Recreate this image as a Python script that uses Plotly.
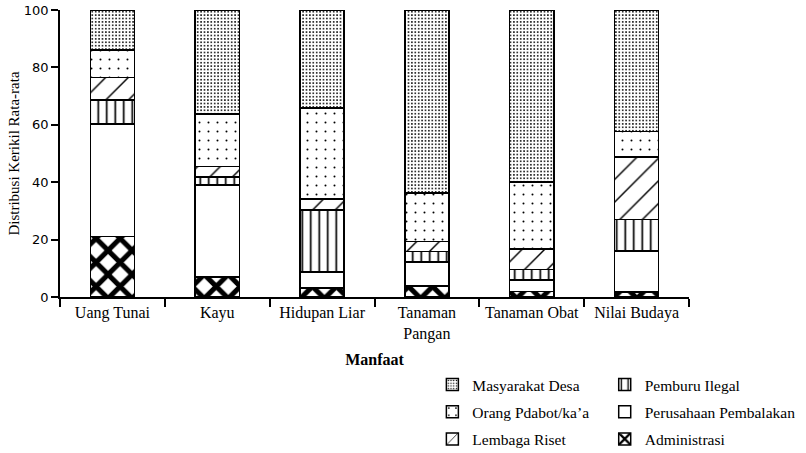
import plotly.graph_objects as go

categories = ["Uang Tunai", "Kayu", "Hidupan Liar", "Tanaman<br>Pangan", "Tanaman Obat", "Nilai Budaya"]

administrasi = [21.0, 7.0, 3.2, 3.8, 2.0, 1.7]
perusahaan_pembalakan = [39.3, 32.1, 5.5, 8.4, 4.0, 14.3]
pemburu_ilegal = [8.4, 2.7, 21.7, 3.6, 3.5, 11.0]
lembaga_riset = [7.8, 3.7, 3.7, 3.6, 7.3, 21.7]
orang_pdabot = [9.5, 18.2, 31.8, 16.9, 23.2, 9.0]
masyarakat_desa = [14.0, 36.3, 34.1, 63.7, 60.0, 42.3]

series = [
    # name, values, pattern shape, size, solidity, legend, rank
    ("Administrasi", administrasi, "x", 17, 0.5, "legend2", 3),
    ("Perusahaan Pembalakan", perusahaan_pembalakan, "", 8, 0.2, "legend2", 2),
    ("Pemburu Ilegal", pemburu_ilegal, "|", 8.5, 0.2, "legend2", 1),
    ("Lembaga Riset", lembaga_riset, "/", 16, 0.09, "legend", 3),
    ("Orang Pdabot/ka\u2019a", orang_pdabot, ".", 9, 0.04, "legend", 2),
    ("Masyarakat Desa", masyarakat_desa, ".", 3.4, 0.22, "legend", 1),
]

fig = go.Figure()
for name, vals, shape, size, sol, leg, rank in series:
    fig.add_trace(go.Bar(
        x=categories, y=vals, name=name,
        width=0.42,
        marker=dict(
            color="white",
            line=dict(color="black", width=1.5),
            pattern=dict(shape=shape, fgcolor="black", bgcolor="white",
                         size=size, solidity=sol, fillmode="replace"),
        ),
        legend=leg, legendrank=rank, legendgroup=name,
    ))

serif = "Liberation Serif"
legfont = dict(family=serif, size=15.5, color="black")
fig.update_layout(
    barmode="stack",
    width=806, height=453,
    margin=dict(l=60, r=117, t=10, b=156, autoexpand=False),
    plot_bgcolor="white", paper_bgcolor="white",
    font=dict(family=serif, color="black", size=15),
    legend=dict(x=0.592, xanchor="left", y=0.1876, yref="container", yanchor="top",
                orientation="v", tracegroupgap=4, font=legfont),
    legend2=dict(x=0.866, xanchor="left", y=0.1876, yref="container", yanchor="top",
                 orientation="v", tracegroupgap=4, font=legfont),
    xaxis=dict(
        automargin=False,
        showline=True, linecolor="black", linewidth=1.5,
        ticks="outside", tickson="boundaries", ticklen=8, tickwidth=1.5, tickcolor="black",
        tickfont=dict(family=serif, size=16, color="black"),
        title=dict(text="<b>Manfaat</b>", font=dict(family=serif, size=16, color="black"), standoff=15),
        showgrid=False,
    ),
    yaxis=dict(
        automargin=False,
        range=[0, 100], dtick=20,
        showline=True, linecolor="black", linewidth=1.5,
        ticks="outside", ticklen=7, tickwidth=1.5, tickcolor="black",
        tickfont=dict(family="DejaVu Sans", size=13, color="black"),
        ticklabeloverflow="allow",
        title=dict(text="Distribusi Kerikil Rata-rata", font=dict(family=serif, size=15, color="black"), standoff=1),
        showgrid=False, zeroline=False,
    ),
)

fig.write_html("out.html", config={"displayModeBar": False},
               post_script="document.body.style.margin='0';")
